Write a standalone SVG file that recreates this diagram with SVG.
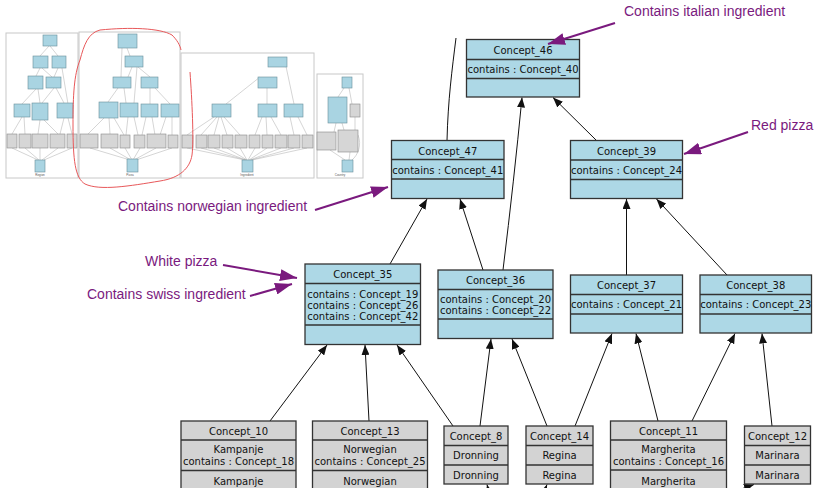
<svg xmlns="http://www.w3.org/2000/svg" width="821" height="488" viewBox="0 0 821 488">
<style>
.b{fill:#add8e6;stroke:#333;stroke-width:1.3}
.g{fill:#d3d3d3;stroke:#333;stroke-width:1.3}
.d{stroke:#333;stroke-width:1.3}
.t{font-family:"DejaVu Sans",sans-serif;font-size:10px;fill:#111;text-anchor:middle}
.e{fill:none;stroke:#111;stroke-width:1}
.a{fill:none;stroke:#7a1a7e;stroke-width:2}
.at{font-family:"Liberation Sans",Arial,sans-serif;font-size:14px;fill:#7a1a7e}
.pn{fill:#fff;stroke:#c8c8c8;stroke-width:1}
.tb{fill:#a9d4e2;stroke:#6a8e9a;stroke-width:0.6}
.tg{fill:#d6d6d6;stroke:#888;stroke-width:0.6}
.te{fill:none;stroke:#aaa;stroke-width:0.5}
.tl{font-family:"Liberation Sans",Arial,sans-serif;font-size:3px;fill:#555;text-anchor:middle}
</style>
<defs>
<marker id="ah" markerUnits="userSpaceOnUse" markerWidth="10" markerHeight="8" refX="10" refY="4" orient="auto"><path d="M0,0 L10,4 L0,8 z" fill="#111"/></marker>
<marker id="pa" markerUnits="userSpaceOnUse" markerWidth="17" markerHeight="12" refX="17" refY="6" orient="auto"><path d="M0,0 L17,6 L0,12 z" fill="#7a1a7e"/></marker>
</defs>
<rect width="821" height="488" fill="#fff"/>

<g id="overview">
<rect class="pn" x="6" y="33" width="72" height="145"/>
<rect class="pn" x="79" y="32" width="101" height="146"/>
<rect class="pn" x="181" y="53" width="133" height="125"/>
<rect class="pn" x="317" y="74" width="46" height="104"/>
<g class="te">
<path d="M49,46 L40,56 M50,46 L58,56 M40,68 L36,76 M42,68 L52,77 M58,68 L54,77 M62,68 L68,104 M36,89 L22,104 M38,89 L40,103 M54,88 L42,103 M56,88 L64,103 M22,117 L12,134 M24,117 L25,134 M40,120 L38,134 M44,120 L58,134 M64,118 L60,134 M68,118 L72,134 M12,148 L38,160 M25,148 L39,160 M40,148 L40,160 M58,148 L42,160 M72,148 L44,160"/>
<path d="M127,48 L130,56 M121,77 L122,48 M128,77 L132,67 M150,77 L138,67 M108,102 L118,88 M126,103 L124,88 M134,103 L137,67 M150,104 L150,88 M170,104 L155,88 M88,134 L104,118 M110,134 L109,118 M124,135 L114,118 M126,135 L128,117 M138,135 L134,117 M142,135 L146,117 M155,135 L152,117 M160,135 L166,117 M172,135 L172,117 M90,148 L130,160 M110,148 L131,160 M125,148 L132,160 M140,148 L133,160 M156,148 L134,160 M172,148 L136,160"/>
<path d="M276,57 L272,67 M284,57 L294,104 M260,77 L226,104 M267,88 L267,104 M187,135 L214,117 M201,135 L217,117 M214,135 L219,117 M227,135 L221,117 M240,135 L224,117 M255,135 L262,117 M267,135 L266,117 M281,135 L271,117 M294,135 L290,117 M307,135 L298,117 M187,148 L245,160 M201,148 L246,160 M214,148 L246,160 M227,148 L247,160 M240,148 L247,160 M255,148 L248,160 M267,148 L249,160 M281,148 L250,160 M294,148 L251,160 M307,148 L252,160"/>
<path d="M338,97 L344,88 M352,104 L349,88 M334,132 L336,123 M344,130 L342,123 M355,130 L355,117 M330,150 L345,160 M350,152 L349,160 M358,135 C362,145 358,155 352,160"/>
</g>
<g class="tb">
<rect x="43" y="35" width="14" height="11"/><rect x="33" y="56" width="15" height="12"/><rect x="52" y="56" width="14" height="12"/>
<rect x="28" y="76" width="15" height="13"/><rect x="46" y="77" width="15" height="11"/>
<rect x="14" y="104" width="16" height="13"/><rect x="32" y="103" width="16" height="17"/><rect x="57" y="103" width="16" height="15"/>
<rect x="35" y="160" width="10" height="12"/>
<rect x="118" y="34" width="19" height="14"/><rect x="125" y="56" width="18" height="11"/>
<rect x="113" y="77" width="18" height="11"/><rect x="141" y="77" width="17" height="11"/>
<rect x="99" y="102" width="19" height="16"/><rect x="120" y="103" width="18" height="14"/><rect x="141" y="104" width="17" height="13"/><rect x="161" y="104" width="18" height="13"/>
<rect x="127" y="159" width="11" height="13"/>
<rect x="268" y="57" width="19" height="10"/><rect x="258" y="77" width="19" height="11"/>
<rect x="212" y="104" width="19" height="13"/><rect x="258" y="104" width="19" height="13"/><rect x="284" y="104" width="19" height="13"/>
<rect x="242" y="160" width="11" height="12"/>
<rect x="342" y="77" width="10" height="11"/><rect x="328" y="97" width="19" height="26"/><rect x="342" y="160" width="11" height="12"/>
</g>
<g class="tg">
<rect x="7" y="134" width="10" height="14"/><rect x="19" y="134" width="12" height="14"/><rect x="32" y="134" width="16" height="14"/><rect x="50" y="134" width="15" height="14"/><rect x="67" y="134" width="10" height="14"/>
<rect x="80" y="134" width="18" height="14"/><rect x="101" y="134" width="17" height="14"/><rect x="120" y="135" width="10" height="13"/><rect x="134" y="135" width="11" height="13"/><rect x="147" y="134" width="19" height="14"/><rect x="168" y="135" width="10" height="13"/>
<rect x="182" y="135" width="11" height="13"/><rect x="196" y="135" width="11" height="13"/><rect x="208" y="135" width="12" height="13"/><rect x="222" y="135" width="11" height="13"/><rect x="235" y="135" width="12" height="13"/><rect x="249" y="135" width="11" height="13"/><rect x="262" y="135" width="11" height="13"/><rect x="275" y="135" width="12" height="13"/><rect x="288" y="135" width="12" height="13"/><rect x="302" y="135" width="11" height="13"/>
<rect x="350" y="104" width="10" height="13"/><rect x="317" y="132" width="19" height="18"/><rect x="338" y="130" width="20" height="22"/>
</g>
<text class="tl" x="40" y="176">Region</text>
<text class="tl" x="130" y="176">Pizza</text>
<text class="tl" x="247" y="176">Ingredient</text>
<text class="tl" x="340" y="176">Country</text>
<path d="M190,72 C192,100 194,140 192,155 C190,168 180,178 160,181 C130,186 100,191 85,184 C75,178 73,160 73,125 C73,95 74,75 80,60 C84,45 88,33 100,30 C130,27 160,28 172,35 C177,40 180,45 181,50" fill="none" stroke="#e8585a" stroke-width="1"/>
</g>

<g id="connectors">
<path class="e" d="M447,140.5 C448,100 452,70 456,38"/>
<path class="e" d="M503,270 Q514,180 522,97.5" marker-end="url(#ah)"/>
<path class="e" d="M596.5,140.5 L553,97.5" marker-end="url(#ah)"/>
<path class="e" d="M390,264 L427,199" marker-end="url(#ah)"/>
<path class="e" d="M483,270 L460,199" marker-end="url(#ah)"/>
<path class="e" d="M626.5,275 L626.5,199" marker-end="url(#ah)"/>
<path class="e" d="M727,275 L656.5,199" marker-end="url(#ah)"/>
<path class="e" d="M270,421 L327,345" marker-end="url(#ah)"/>
<path class="e" d="M369,421 L365,345" marker-end="url(#ah)"/>
<path class="e" d="M453,426 L397,345" marker-end="url(#ah)"/>
<path class="e" d="M480,426 L491,339" marker-end="url(#ah)"/>
<path class="e" d="M547,426 L512,339" marker-end="url(#ah)"/>
<path class="e" d="M575,426 L612,333.5" marker-end="url(#ah)"/>
<path class="e" d="M658,421 L636,333.5" marker-end="url(#ah)"/>
<path class="e" d="M692,421 L735,333.5" marker-end="url(#ah)"/>
<path class="e" d="M772,426 L762,333.5" marker-end="url(#ah)"/>
<path class="e" d="M491,500 L487,484.5" marker-end="url(#ah)"/>
<path class="e" d="M541,500 L547,484.5" marker-end="url(#ah)"/>
<path class="e" d="M710,500 L754,484.5" marker-end="url(#ah)"/>
</g>

<g id="Concept_46">
<rect class="b" x="466.5" y="39.5" width="113" height="57.5"/>
<path class="d" d="M466.5,59.5 H579.5 M466.5,78.5 H579.5"/>
<text class="t" x="523" y="53.5">Concept_46</text>
<text class="t" x="523" y="72.5">contains : Concept_40</text>
</g>
<g id="Concept_47">
<rect class="b" x="391.5" y="140.5" width="112.5" height="58"/>
<path class="d" d="M391.5,159.5 H504 M391.5,179 H504"/>
<text class="t" x="447.75" y="154.5">Concept_47</text>
<text class="t" x="447.75" y="173.5">contains : Concept_41</text>
</g>
<g id="Concept_39">
<rect class="b" x="570.5" y="140.5" width="112" height="58"/>
<path class="d" d="M570.5,160 H682.5 M570.5,179.5 H682.5"/>
<text class="t" x="626.5" y="154.5">Concept_39</text>
<text class="t" x="626.5" y="174">contains : Concept_24</text>
</g>
<g id="Concept_35">
<rect class="b" x="305" y="264" width="115.5" height="80.5"/>
<path class="d" d="M305,283.5 H420.5 M305,325 H420.5"/>
<text class="t" x="362.75" y="278">Concept_35</text>
<text class="t" x="362.75" y="297.5">contains : Concept_19</text>
<text class="t" x="362.75" y="308.5">contains : Concept_26</text>
<text class="t" x="362.75" y="319.5">contains : Concept_42</text>
</g>
<g id="Concept_36">
<rect class="b" x="438" y="270" width="115" height="68.5"/>
<path class="d" d="M438,289.5 H553 M438,319 H553"/>
<text class="t" x="495.5" y="284">Concept_36</text>
<text class="t" x="495.5" y="303">contains : Concept_20</text>
<text class="t" x="495.5" y="314">contains : Concept_22</text>
</g>
<g id="Concept_37">
<rect class="b" x="570.5" y="275" width="112" height="58"/>
<path class="d" d="M570.5,294.5 H682.5 M570.5,314 H682.5"/>
<text class="t" x="626.5" y="289">Concept_37</text>
<text class="t" x="626.5" y="308">contains : Concept_21</text>
</g>
<g id="Concept_38">
<rect class="b" x="700" y="275" width="111.5" height="58"/>
<path class="d" d="M700,294.5 H811.5 M700,314 H811.5"/>
<text class="t" x="755.75" y="289">Concept_38</text>
<text class="t" x="755.75" y="308">contains : Concept_23</text>
</g>

<g id="Concept_10">
<rect class="g" x="181" y="421" width="115" height="80"/>
<path class="d" d="M181,440 H296 M181,470.5 H296"/>
<text class="t" x="238.5" y="434.5">Concept_10</text>
<text class="t" x="238.5" y="453">Kampanje</text>
<text class="t" x="238.5" y="464.5">contains : Concept_18</text>
<text class="t" x="238.5" y="484.5">Kampanje</text>
</g>
<g id="Concept_13">
<rect class="g" x="312.5" y="421" width="115" height="80"/>
<path class="d" d="M312.5,440 H427.5 M312.5,470.5 H427.5"/>
<text class="t" x="370" y="434.5">Concept_13</text>
<text class="t" x="370" y="453">Norwegian</text>
<text class="t" x="370" y="464.5">contains : Concept_25</text>
<text class="t" x="370" y="484.5">Norwegian</text>
</g>
<g id="Concept_8">
<rect class="g" x="444" y="426" width="64" height="58"/>
<path class="d" d="M444,445.5 H508 M444,465 H508"/>
<text class="t" x="476" y="439.5">Concept_8</text>
<text class="t" x="476" y="459">Dronning</text>
<text class="t" x="476" y="478.5">Dronning</text>
</g>
<g id="Concept_14">
<rect class="g" x="526" y="426" width="67" height="58"/>
<path class="d" d="M526,445.5 H593 M526,465 H593"/>
<text class="t" x="559.5" y="439.5">Concept_14</text>
<text class="t" x="559.5" y="459">Regina</text>
<text class="t" x="559.5" y="478.5">Regina</text>
</g>
<g id="Concept_11">
<rect class="g" x="610.5" y="421" width="116" height="80"/>
<path class="d" d="M610.5,440 H726.5 M610.5,470 H726.5"/>
<text class="t" x="668.5" y="434.5">Concept_11</text>
<text class="t" x="668.5" y="453">Margherita</text>
<text class="t" x="668.5" y="464.5">contains : Concept_16</text>
<text class="t" x="668.5" y="484.5">Margherita</text>
</g>
<g id="Concept_12">
<rect class="g" x="744.5" y="426" width="66" height="58"/>
<path class="d" d="M744.5,445.5 H810.5 M744.5,465 H810.5"/>
<text class="t" x="777.5" y="439.5">Concept_12</text>
<text class="t" x="777.5" y="459">Marinara</text>
<text class="t" x="777.5" y="478.5">Marinara</text>
</g>

<g id="annotations">
<text class="at" x="624" y="16">Contains italian ingredient</text>
<path class="a" d="M615,23 L548,44" marker-end="url(#pa)"/>
<text class="at" x="751" y="130">Red pizza</text>
<path class="a" d="M748,132 L684,154" marker-end="url(#pa)"/>
<text class="at" x="118" y="211">Contains norwegian ingredient</text>
<path class="a" d="M315,210 L388,187" marker-end="url(#pa)"/>
<text class="at" x="145" y="266">White pizza</text>
<path class="a" d="M223,265 L297,278" marker-end="url(#pa)"/>
<text class="at" x="87" y="298.5">Contains swiss ingredient</text>
<path class="a" d="M250,296 L292,284" marker-end="url(#pa)"/>
</g>
</svg>
